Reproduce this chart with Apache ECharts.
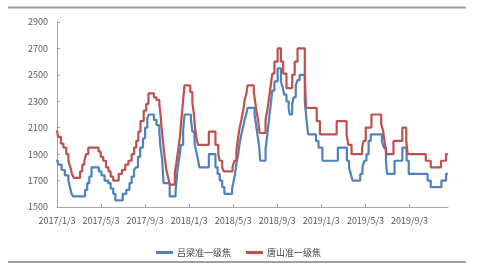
<!DOCTYPE html>
<html><head><meta charset="utf-8">
<script src="https://cdn.jsdelivr.net/npm/echarts@6/dist/echarts.min.js"></script>
<style>html,body{margin:0;padding:0;background:#fff}#c{width:477px;height:274px}</style>
</head><body><div id="c"></div>
<script>
// Tick labels of the date axis (every 4 months)
const xTickLabels = ['2017/1/3','2017/5/3','2017/9/3','2018/1/3','2018/5/3','2018/9/3','2019/1/3','2019/5/3','2019/9/3'];
const seriesNames = ['吕梁准一级焦','唐山准一级焦'];

// 吕梁准一级焦 : dates where the price changes, and the new price
const luliangDates = ['2017/1/3','2017/1/7','2017/1/16','2017/1/25','2017/2/4','2017/2/8','2017/2/12','2017/2/16','2017/3/20','2017/3/26','2017/4/1','2017/4/7','2017/4/27','2017/5/4','2017/5/13','2017/5/23','2017/5/30','2017/6/6','2017/6/12','2017/7/2','2017/7/12','2017/7/21','2017/7/27','2017/8/3','2017/8/8','2017/8/14','2017/8/20','2017/8/28','2017/9/3','2017/9/9','2017/9/13','2017/9/27','2017/10/4','2017/10/12','2017/10/15','2017/10/20','2017/10/24','2017/11/10','2017/11/26','2017/11/28','2017/12/1','2017/12/6','2017/12/11','2017/12/17','2017/12/21','2018/1/8','2018/1/12','2018/1/18','2018/1/23','2018/1/27','2018/2/1','2018/2/25','2018/3/15','2018/3/21','2018/3/27','2018/4/3','2018/4/9','2018/4/30','2018/5/3','2018/5/8','2018/5/12','2018/5/17','2018/5/21','2018/5/26','2018/5/31','2018/6/4','2018/6/9','2018/6/12','2018/7/1','2018/7/5','2018/7/9','2018/7/14','2018/7/17','2018/8/1','2018/8/6','2018/8/11','2018/8/15','2018/8/20','2018/8/26','2018/9/4','2018/9/13','2018/9/18','2018/9/22','2018/9/28','2018/10/4','2018/10/7','2018/10/14','2018/10/18','2018/10/24','2018/10/29','2018/11/4','2018/11/18','2018/11/23','2018/11/27','2018/12/19','2018/12/26','2019/1/6','2019/2/17','2019/3/13','2019/3/19','2019/3/24','2019/3/29','2019/4/19','2019/4/25','2019/4/30','2019/5/6','2019/5/12','2019/5/18','2019/6/18','2019/6/23','2019/6/29','2019/7/2','2019/7/23','2019/8/14','2019/8/26','2019/9/1','2019/10/23','2019/11/1','2019/11/30','2019/12/13','2019/12/18'];
const luliangValues = [1860,1820,1780,1740,1700,1650,1600,1580,1630,1680,1730,1800,1770,1740,1700,1680,1640,1600,1550,1600,1630,1680,1730,1780,1800,1880,1950,2020,2100,2170,2200,2160,2120,2070,1960,1860,1680,1580,1620,1680,1780,1870,1970,2080,2200,2160,2070,1980,1920,1870,1800,1900,1800,1750,1700,1650,1600,1640,1680,1750,1830,1900,1980,2050,2110,2160,2210,2250,2200,2130,2050,1960,1850,1940,2050,2170,2260,2380,2450,2550,2450,2400,2350,2300,2250,2200,2280,2330,2420,2460,2500,2300,2150,2050,2000,1950,1850,1950,1850,1800,1750,1700,1750,1800,1850,1900,2000,2050,2000,1950,1850,1750,1850,1950,1850,1750,1700,1650,1700,1750,1750];

// 唐山准一级焦
const tangshanDates = ['2017/1/3','2017/1/6','2017/1/14','2017/1/21','2017/1/29','2017/2/4','2017/2/9','2017/2/13','2017/2/18','2017/3/6','2017/3/12','2017/3/18','2017/3/23','2017/3/29','2017/4/26','2017/5/2','2017/5/9','2017/5/17','2017/5/24','2017/5/30','2017/6/6','2017/6/21','2017/6/30','2017/7/9','2017/7/18','2017/7/27','2017/8/3','2017/8/9','2017/8/15','2017/8/21','2017/8/30','2017/9/6','2017/9/12','2017/9/27','2017/10/4','2017/10/12','2017/10/15','2017/10/18','2017/10/23','2017/10/27','2017/11/1','2017/11/6','2017/11/10','2017/11/24','2017/11/28','2017/12/3','2017/12/8','2017/12/12','2017/12/17','2017/12/21','2018/1/6','2018/1/12','2018/1/16','2018/1/19','2018/1/24','2018/1/28','2018/2/25','2018/3/15','2018/3/23','2018/3/27','2018/4/3','2018/4/7','2018/5/1','2018/5/6','2018/5/12','2018/5/17','2018/5/21','2018/5/26','2018/5/31','2018/6/4','2018/6/9','2018/6/12','2018/6/29','2018/7/2','2018/7/6','2018/7/11','2018/7/15','2018/8/1','2018/8/6','2018/8/11','2018/8/15','2018/8/20','2018/8/26','2018/9/4','2018/9/13','2018/9/19','2018/9/28','2018/10/14','2018/10/21','2018/10/29','2018/11/18','2018/11/21','2018/12/21','2018/12/30','2019/2/14','2019/3/12','2019/3/17','2019/3/26','2019/4/24','2019/4/28','2019/5/4','2019/5/20','2019/6/16','2019/6/21','2019/6/25','2019/6/30','2019/7/20','2019/8/14','2019/8/25','2019/8/29','2019/10/18','2019/11/1','2019/11/29','2019/12/13','2019/12/18'];
const tangshanValues = [2080,2030,1980,1950,1900,1850,1800,1750,1720,1770,1820,1850,1900,1950,1920,1880,1850,1800,1770,1730,1700,1750,1780,1820,1850,1900,1950,2000,2070,2150,2230,2280,2360,2330,2310,2280,2210,2110,1980,1880,1780,1720,1670,1760,1830,1930,2030,2160,2310,2420,2370,2290,2210,2110,2010,1970,2070,1970,1900,1850,1800,1770,1800,1850,1930,2030,2100,2160,2230,2310,2360,2420,2370,2310,2230,2160,2060,2160,2230,2330,2410,2510,2600,2700,2600,2510,2400,2500,2600,2700,2500,2250,2150,2050,2150,2050,1970,1900,1950,2000,2100,2200,2130,2080,2000,1900,2000,2100,2000,1900,1850,1800,1850,1900,1900];

const Y_BASE = 1500;

function toMonth(s) {
  const [y, m, d] = s.split('/').map(Number);
  const dim = new Date(y, m, 0).getDate();
  return (y - 2017) * 12 + (m - 1) + (d - 3) / dim;
}
function pairs(dates, vals) {
  return dates.map((d, i) => [toMonth(d), vals[i] - Y_BASE]);
}

const axisGray = '#a6a6a6';
const textColor = '#595959';
const font = '"Noto Sans CJK SC", "Liberation Sans", sans-serif';

const chart = echarts.init(document.getElementById('c'), null, {renderer: 'canvas'});
chart.setOption({
  animation: false,
  backgroundColor: '#fff',
  grid: {left: 57, right: 29, top: 22, bottom: 67, containLabel: false},
  xAxis: {
    type: 'value', min: 0, max: 35.5, interval: 4,
    axisLine: {show: true, lineStyle: {color: axisGray, width: 1}},
    axisTick: {show: true, inside: true, length: 3, lineStyle: {color: axisGray}},
    axisLabel: {
      margin: 9, fontSize: 9, color: textColor, fontFamily: font,
      showMaxLabel: false,
      formatter: v => (Math.abs(v % 4) < 1e-9 && xTickLabels[v / 4]) ? xTickLabels[v / 4] : ''
    },
    splitLine: {show: false}
  },
  yAxis: {
    type: 'value', min: 0, max: 1400, interval: 200,
    axisLine: {show: true, lineStyle: {color: axisGray, width: 1}},
    axisTick: {show: true, inside: true, length: 3, lineStyle: {color: axisGray}},
    axisLabel: {margin: 9, fontSize: 9, color: textColor, fontFamily: font, formatter: v => String(v + Y_BASE)},
    splitLine: {show: false}
  },
  legend: {
    top: 243, left: 'center',
    icon: 'rect', itemWidth: 17, itemHeight: 3, itemGap: 15,
    textStyle: {fontSize: 9, color: '#404040', fontFamily: font, padding: [0, 0, 0, -1]},
    data: seriesNames
  },
  series: [
    {name: seriesNames[0], type: 'line', step: 'end', showSymbol: false, symbol: 'none',
     data: pairs(luliangDates, luliangValues), color: '#4F81BD',
     lineStyle: {color: '#4F81BD', width: 2.2}},
    {name: seriesNames[1], type: 'line', step: 'end', showSymbol: false, symbol: 'none',
     data: pairs(tangshanDates, tangshanValues), color: '#C0504D',
     lineStyle: {color: '#C0504D', width: 2.2}}
  ],
  graphic: [
    {type: 'line', shape: {x1: 8, y1: 7.5, x2: 466, y2: 7.5}, style: {stroke: '#a0a0a0', lineWidth: 2}, silent: true},
    {type: 'line', shape: {x1: 8, y1: 262, x2: 466, y2: 262}, style: {stroke: '#a0a0a0', lineWidth: 2}, silent: true}
  ]
});
</script></body></html>
